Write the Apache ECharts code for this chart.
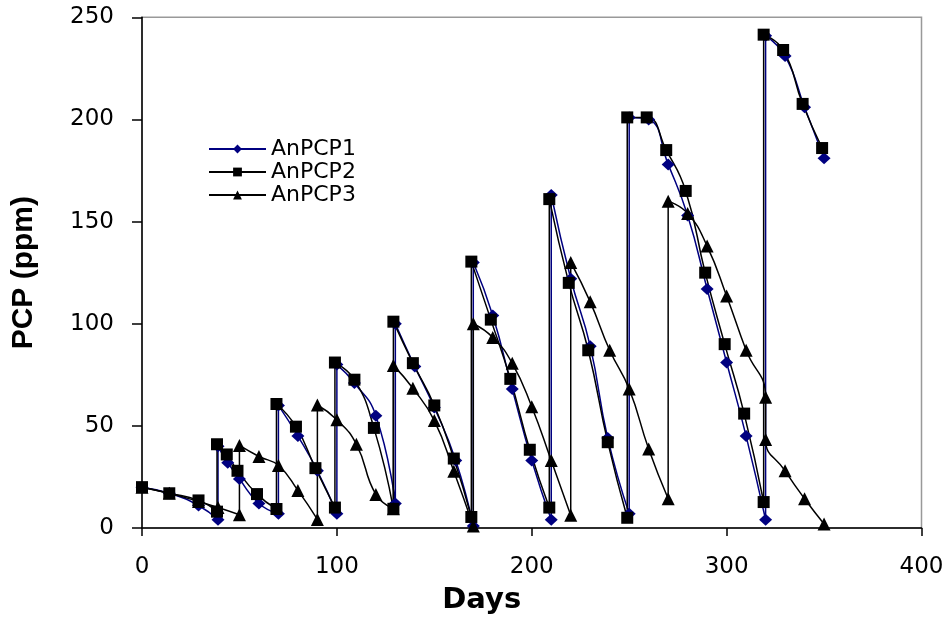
<!DOCTYPE html>
<html>
<head>
<meta charset="utf-8">
<script src="https://cdn.jsdelivr.net/npm/echarts@6/dist/echarts.min.js"></script>
<style>
  html, body { margin: 0; padding: 0; background: #fff; }
  #chart { width: 951px; height: 620px; }
</style>
</head>
<body>
<div id="chart"></div>
<script>
// values: [day, ppm]
const anpcp1 = [
  [0, 20], [14, 17], [29, 11], [39, 4], [39, 40], [44, 32], [50, 24], [60, 12], [70, 7],
  [70, 60], [80, 45], [90, 28], [100, 7], [100, 80], [109, 71], [120, 55], [130, 12],
  [130, 100], [140, 79], [150, 59], [161, 33], [170, 1], [170, 130], [180, 104], [190, 68],
  [200, 33], [210, 4], [210, 163], [220, 122], [230, 89], [239, 44], [250, 7], [250, 201],
  [260, 200], [270, 178], [280, 153], [290, 117], [300, 81], [310, 45], [320, 4], [320, 241],
  [330, 231], [340, 206], [350, 181]
]

const anpcp2 = [
  [0, 20], [14, 17], [29, 13.5], [38.5, 8], [38.5, 41], [43.5, 36], [49, 28], [59, 16.6],
  [69, 9.3], [69, 60.7], [79, 49.6], [89, 29.3], [99, 10], [99, 81], [109, 72.6], [119, 49],
  [129, 9.4], [129, 101], [139, 80.7], [150, 60], [160, 34], [169, 5.4], [169, 130.4],
  [179, 102], [189, 73], [199, 38.3], [209, 10], [209, 161], [219, 120], [229, 87], [239, 42],
  [249, 5], [249, 201], [259, 201], [269, 185], [279, 165], [289, 125], [299, 90], [309, 56],
  [319, 12.7], [319, 241.5], [329, 234], [339, 207.6], [349, 186]
]

const anpcp3 = [
  [0, 20], [14, 17], [29, 13], [39, 10], [50, 6.5], [50, 40.4], [60, 35], [70, 30.6],
  [80, 18.4], [90, 4.2], [90, 60.2], [100, 53], [110, 41], [120, 16.4], [129, 9.4],
  [129, 79.6], [139, 68.4], [150, 52.6], [160, 27.8], [170, 1], [170, 100], [180, 93.3],
  [190, 80.6], [200, 59.4], [210, 33], [220, 6.2], [220, 130], [230, 110.7], [240, 87],
  [250, 68], [260, 38.7], [270, 14.3], [270, 160], [280, 154], [290, 138], [300, 113.6],
  [310, 87], [320, 64], [320, 43.3], [330, 28], [340, 14.3], [350, 2]
]

const seriesNames = ['AnPCP1', 'AnPCP2', 'AnPCP3']

const chart = echarts.init(document.getElementById('chart'), null, { renderer: 'canvas' })

function makeSeries(name, data, symbol, size, color) {
  return {
    name: name,
    type: 'line',
    data: data,
    smooth: 0.5,
    symbol: symbol,
    symbolSize: size,
    showAllSymbol: true,
    lineStyle: { color: color, width: 1.5 },
    itemStyle: { color: color },
    emphasis: { disabled: true },
    animation: false
  }
}

const axisFont = { fontFamily: 'DejaVu Sans', fontSize: 23, color: '#000' }

chart.setOption({
  backgroundColor: '#fff',
  animation: false,
  grid: {
    left: 142, right: 29.5, top: 17.3, bottom: 90.5,
    show: true, borderColor: '#999', borderWidth: 1.5, backgroundColor: 'transparent'
  },
  legend: {
    data: seriesNames,
    orient: 'vertical',
    left: 203,
    top: 133,
    itemWidth: 57,
    itemHeight: 11,
    itemGap: 1,
    textStyle: { fontFamily: 'DejaVu Sans', fontSize: 22, color: '#000' }
  },
  xAxis: {
    type: 'value',
    min: 0, max: 400, interval: 100,
    name: 'Days',
    nameLocation: 'middle',
    nameGap: 58,
    nameTextStyle: { fontFamily: 'DejaVu Sans', fontWeight: 'bold', fontSize: 29, color: '#000', padding: [0, 100, 0, 0] },
    axisLine: { lineStyle: { color: '#000', width: 1.5 } },
    axisTick: { inside: false, length: 8, lineStyle: { color: '#000', width: 1.5 } },
    axisLabel: { margin: 28, ...axisFont },
    splitLine: { show: false }
  },
  yAxis: {
    type: 'value',
    min: 0, max: 250, interval: 50,
    name: 'PCP (ppm)',
    nameLocation: 'middle',
    nameRotate: 90,
    nameGap: 103,
    nameTextStyle: { fontFamily: 'Liberation Sans', fontWeight: 'bold', fontSize: 30, color: '#000' },
    axisLine: { lineStyle: { color: '#000', width: 1.5 } },
    axisTick: { inside: false, length: 10, lineStyle: { color: '#000', width: 1.5 } },
    axisLabel: { margin: 28, ...axisFont },
    splitLine: { show: false }
  },
  series: [
    makeSeries(seriesNames[0], anpcp1, 'diamond', [13, 12], '#000080'),
    makeSeries(seriesNames[1], anpcp2, 'rect', 12, '#000'),
    makeSeries(seriesNames[2], anpcp3, 'triangle', 13, '#000')
  ]
})
</script>
</body>
</html>
